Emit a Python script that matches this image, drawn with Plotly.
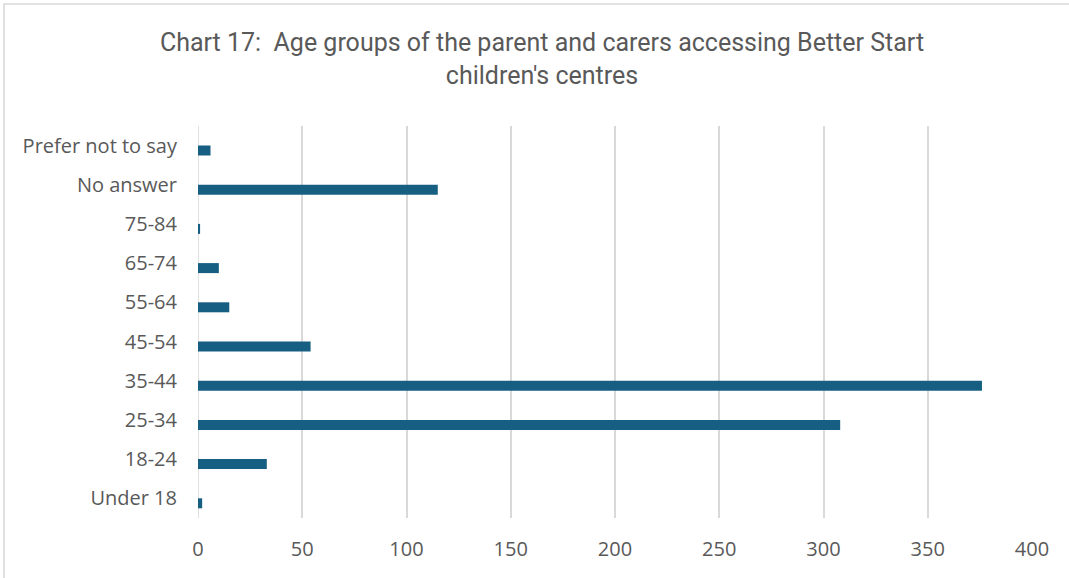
import plotly.graph_objects as go

# Age groups (bottom to top on the chart) and number of parents/carers in each
age_groups = ["Under 18", "18-24", "25-34", "35-44", "45-54",
              "55-64", "65-74", "75-84", "No answer", "Prefer not to say"]
counts = [2, 33, 308, 376, 54, 15, 10, 1, 115, 6]

x_ticks = [0, 50, 100, 150, 200, 250, 300, 350, 400]

W, H = 1069, 578
L, R, T, B = 198, 37, 126, 60
plot_w = W - L - R
plot_h = H - T - B

bar_color = "#175f82"
grey_text = "#595959"
grid_color = "#d9d9d9"
label_font = "Open Sans"

bar_w = 0.255
fig = go.Figure(
    go.Bar(
        y=list(range(len(age_groups))),
        x=counts,
        orientation="h",
        width=bar_w,
        offset=-bar_w / 2 - 0.125,
        marker=dict(color=bar_color, line=dict(width=0)),
        hoverinfo="x+y",
    )
)

fig.update_layout(
    width=W,
    height=H,
    margin=dict(l=L, r=R, t=T, b=B),
    paper_bgcolor="white",
    plot_bgcolor="white",
    showlegend=False,
    title=dict(
        text="Chart 17:  Age groups of the parent and carers accessing Better Start<br>children's centres",
        x=542 / W,
        xanchor="center",
        y=1 - 51 / H,
        yanchor="middle",
        font=dict(family="Roboto", size=25, color=grey_text),
    ),
    font=dict(family=label_font, size=20, color=grey_text),
)

fig.update_xaxes(
    range=[0, 400],
    tickvals=x_ticks,
    ticktext=[str(v) for v in x_ticks],
    showgrid=True,
    gridcolor=grid_color,
    gridwidth=1.6,
    zeroline=False,
    showline=False,
    ticks="",
    ticklabelstandoff=17,
    tickfont=dict(family=label_font, size=20, color=grey_text),
    fixedrange=True,
)

fig.update_yaxes(
    range=[-0.5, 9.5],
    tickvals=list(range(len(age_groups))),
    ticktext=age_groups,
    showgrid=False,
    zeroline=False,
    showline=False,
    ticks="",
    ticklabelstandoff=20,
    tickfont=dict(family=label_font, size=20, color=grey_text),
    fixedrange=True,
)

# Zero line drawn like the other vertical gridlines
fig.add_shape(type="line", xref="x", yref="paper", x0=0, x1=0, y0=0, y1=1,
              line=dict(color=grid_color, width=1.6), layer="below")

# Light frame around the chart area
fig.add_shape(
    type="rect", xref="paper", yref="paper",
    x0=(4 - L) / plot_w, x1=(W + 10 - L) / plot_w,
    y0=-(B + 10) / plot_h, y1=(plot_h + T - 4) / plot_h,
    line=dict(color=grid_color, width=1.6), fillcolor="rgba(0,0,0,0)", layer="below",
)

fig.write_html("out.html")
